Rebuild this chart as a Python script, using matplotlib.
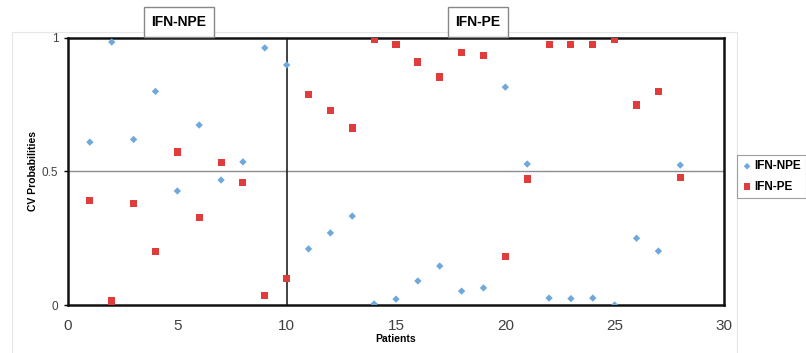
import matplotlib
matplotlib.use("Agg")
import matplotlib.pyplot as plt
from matplotlib.patches import Rectangle

patients = list(range(1, 29))
ifn_npe = [0.61, 0.985, 0.62, 0.80, 0.427, 0.674, 0.468, 0.536, 0.963, 0.899,
           0.21, 0.27, 0.333, 0.004, 0.022, 0.09, 0.146, 0.052, 0.064, 0.816,
           0.528, 0.026, 0.024, 0.026, 0.0, 0.25, 0.202, 0.524]
ifn_pe = [0.39, 0.015, 0.38, 0.20, 0.573, 0.326, 0.532, 0.46, 0.037, 0.10,
          0.79, 0.73, 0.663, 0.996, 0.977, 0.91, 0.854, 0.947, 0.936, 0.18,
          0.472, 0.974, 0.974, 0.974, 0.996, 0.749, 0.798, 0.479]
x_ticks = [0, 5, 10, 15, 20, 25, 30]
y_ticks = [0, 0.5, 1]
y_tick_labels = ["0", "0.5", "1"]

W, H = 806, 353
plt.rcParams['font.family'] = ['Liberation Sans', 'DejaVu Sans']
fig = plt.figure(figsize=(W / 100, H / 100), dpi=100)

# faint chart-area border
fig.patches.append(Rectangle((12 / W, -0.01), (737 - 12) / W, (353 - 32) / H + 0.01,
                             transform=fig.transFigure, fill=False,
                             edgecolor='#e6e6e6', linewidth=0.8))

ax = fig.add_axes([68 / W, (H - 305) / H, (724 - 68) / W, (305 - 38) / H])
ax.set_xlim(0, 30)
ax.set_ylim(0, 1)

ax.axhline(0.5, color='#8c8c8c', linewidth=1.0, zorder=1)
ax.axvline(10, color='#222222', linewidth=1.2, zorder=1)

ax.scatter(patients, ifn_npe, marker='D', s=14, color='#6fa8dc', edgecolors='none',
           label='IFN-NPE', zorder=3)
ax.scatter(patients, ifn_pe, marker='s', s=26, color='#e03c3c', edgecolors='none',
           label='IFN-PE', zorder=3)

for sp in ax.spines.values():
    sp.set_linewidth(1.8)
    sp.set_color('#111111')

ax.set_xticks(x_ticks)
ax.set_xticklabels([str(t) for t in x_ticks], fontsize=11, color='#404040')
ax.set_yticks(y_ticks)
ax.set_yticklabels(y_tick_labels, fontsize=8.5, color='#404040')
ax.tick_params(axis='x', length=0, pad=10)
ax.tick_params(axis='y', length=3, width=1, pad=4)

ax.set_xlabel('Patients', fontsize=7.5, fontweight='bold', labelpad=1)
ax.set_ylabel('CV Probabilities', fontsize=7.5, fontweight='bold', labelpad=3)

leg = fig.legend(loc='upper left', bbox_to_anchor=(737 / W, 1 - 155 / H),
                 prop={'weight': 'bold', 'size': 8.5}, frameon=True,
                 fancybox=False, edgecolor='#888888', handletextpad=0.2,
                 borderpad=0.45, borderaxespad=0.0, labelspacing=0.7,
                 handlelength=0.8, markerscale=0.9)
leg.get_frame().set_linewidth(0.8)

box = dict(boxstyle='square,pad=0.55', facecolor='white', edgecolor='#888888', linewidth=1.0)
fig.text(179 / W, 1 - 22 / H, 'IFN-NPE', ha='center', va='center', fontsize=10,
         fontweight='bold', bbox=box)
fig.text(478 / W, 1 - 22 / H, 'IFN-PE', ha='center', va='center', fontsize=10,
         fontweight='bold', bbox=box)

fig.savefig('out.png', dpi=100)
